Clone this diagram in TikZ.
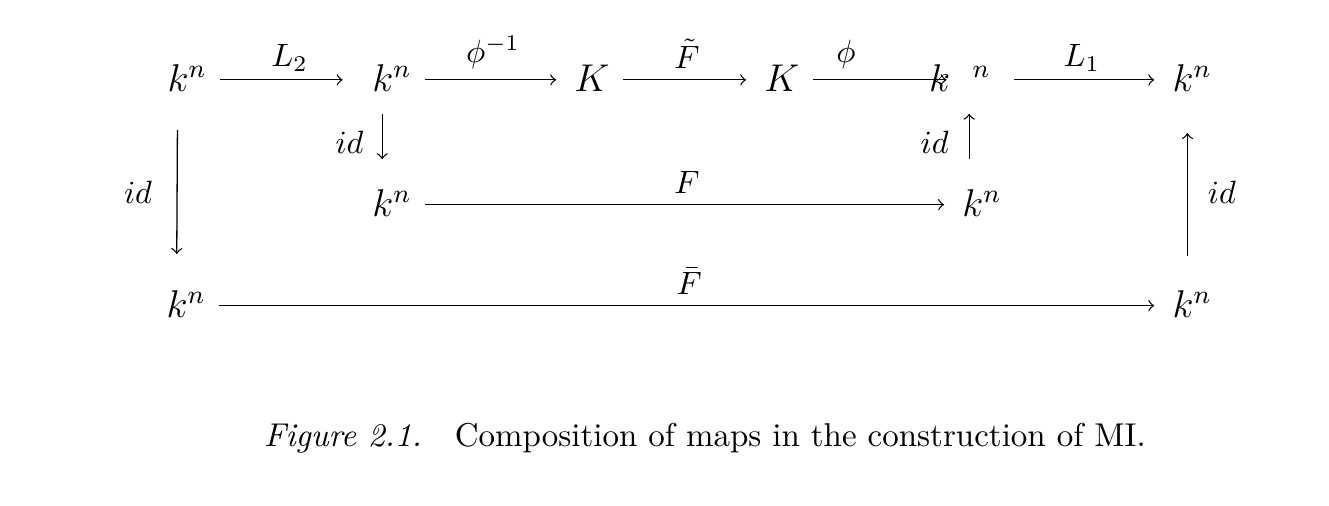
\documentclass[tikz,border=0pt]{standalone}
\usetikzlibrary{arrows,arrows.meta}
\usetikzlibrary{calc}

\begin{document}
\begin{tikzpicture}[
    obj/.style={font=\large, anchor=base, text height=8pt, text depth=0.6pt, inner sep=4pt},
    map/.style={-to, shorten >=1.5pt}
]

    \useasboundingbox (0,0) rectangle (14.48,-5.51);

    % top row
    \node[obj] (A1) at (2.04,-1.00) {$k^n$};
    \node[obj] (A2) at (4.27,-1.00) {$k^n$};
    \node[obj] (A3) at (6.45,-1.00) {$K$};
    \node[obj] (A4) at (8.52,-1.00) {$K$};
    \node[obj] (A5) at (10.46,-1.00) {$k^{\hspace{7pt}n}$};
    \node[obj] (A6) at (12.99,-1.00) {$k^n$};

    % middle and bottom rows
    \node[obj] (B2) at (4.27,-2.36) {$k^n$};
    \node[obj] (B5) at (10.70,-2.36) {$k^n$};
    \node[obj] (C1) at (2.03,-3.46) {$k^n$};
    \node[obj] (C6) at (12.99,-3.46) {$k^n$};

    \draw[map, shorten >=5pt] (A1) -- node[above, yshift=-0.3mm] {$L_2$} (A2);
    \draw[map] (A2) -- node[above] {$\phi^{-1}$} (A3);
    \draw[map] (A3) -- node[above] {$\tilde{F}$} (A4);
    \draw[map, shorten >=-9.6pt] (A4) -- node[above, xshift=-2mm] {$\phi$} (A5);
    \draw[map, shorten <=3pt] (A5) -- node[above, yshift=-0.3mm] {$L_1$} (A6);

    \draw[map] (B2) -- node[above] {$F$} (B5);
    \draw[map] (C1) -- node[above] {$\bar{F}$} (C6);

    \draw[map, shorten <=7pt, shorten >=7.5pt] ([xshift=-3pt]A1.south) -- node[left, xshift=-1.5mm] {$id$} ([xshift=-3pt]C1.north);
    \draw[map, shorten <=2pt, shorten >=5.6pt] ([xshift=-3pt]A2.south) -- node[left, xshift=-0.8mm] {$id$} ([xshift=-3pt]B2.north);
    \draw[map, shorten <=5.6pt, shorten >=2pt] ([xshift=-4pt]B5.north) -- node[left, xshift=-1mm] {$id$} ([xshift=-4pt]B5.north |- A5.south);
    \draw[map, shorten <=7pt, shorten >=8pt] ([xshift=-1.5pt]C6.north) -- node[right, xshift=1mm] {$id$} ([xshift=-1.5pt]A6.south);

    \node[anchor=base west, inner sep=0, font=\fontsize{10.23}{12}\selectfont] (cap) at (2.87,-4.87) {\textit{Figure 2.1.}\quad Composition of maps in the construction of MI.};

\end{tikzpicture}
\end{document}
